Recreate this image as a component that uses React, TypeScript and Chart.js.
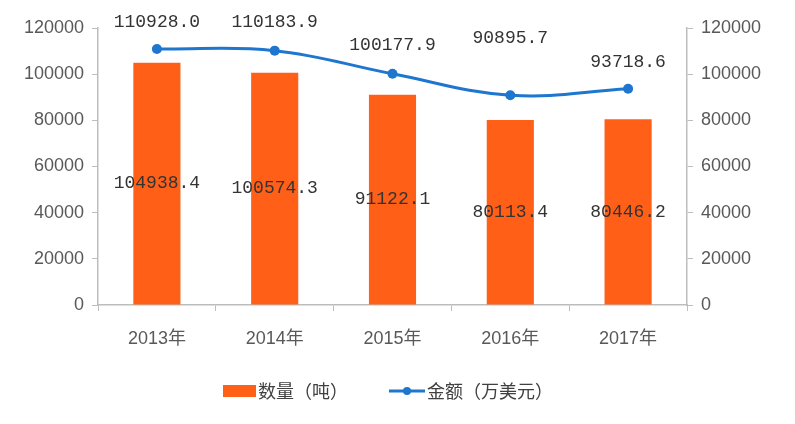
import { useEffect, useRef } from "react";
import { Chart, registerables } from "chart.js";

Chart.register(...registerables);

const years = ["2013年", "2014年", "2015年", "2016年", "2017年"];
const quantity = [104938.4, 100574.3, 91122.1, 80113.4, 80446.2];
const amount = [110928.0, 110183.9, 100177.9, 90895.7, 93718.6];
const seriesNames = ["数量（吨）", "金额（万美元）"];

// how far each amount label sits above its point (px)
const lineLabelOffsets = [27, 28, 29, 57, 26];

const ORANGE = "#ff5f16";
const BLUE = "#1f76cf";
const AXIS = "#bdbdbd";
const TICK_TEXT = "#595959";

const valueLabels = {
    id: "valueLabels",
    afterDatasetsDraw(chart: any) {
        const ctx = chart.ctx;
        ctx.save();
        ctx.font = '18px "Liberation Mono"';
        ctx.fillStyle = "#333333";
        ctx.textAlign = "center";
        ctx.textBaseline = "middle";

        chart.getDatasetMeta(0).data.forEach((el: any, i: number) => {
            const { x, y, base } = el.getProps(["x", "y", "base"], true);
            ctx.fillText(quantity[i].toFixed(1), x, (y + base) / 2);
        });

        chart.getDatasetMeta(1).data.forEach((el: any, i: number) => {
            const { x, y } = el.getProps(["x", "y"], true);
            ctx.fillText(amount[i].toFixed(1), x, y - lineLabelOffsets[i]);
        });
        ctx.restore();
    },
};

// excel-like legend: box for bars, line with dot for the line series
const bottomLegend = {
    id: "bottomLegend",
    afterDraw(chart: any) {
        const ctx = chart.ctx;
        const cy = 391;
        ctx.save();
        ctx.font = '18px "Noto Sans CJK SC"';
        ctx.textBaseline = "middle";
        ctx.textAlign = "left";

        ctx.fillStyle = ORANGE;
        ctx.fillRect(223, cy - 6, 33, 12);
        ctx.fillStyle = "#404040";
        ctx.fillText(seriesNames[0], 258, cy);

        ctx.strokeStyle = BLUE;
        ctx.lineWidth = 3;
        ctx.beginPath();
        ctx.moveTo(389, cy);
        ctx.lineTo(425, cy);
        ctx.stroke();
        ctx.fillStyle = BLUE;
        ctx.beginPath();
        ctx.arc(407, cy, 4, 0, Math.PI * 2);
        ctx.fill();
        ctx.fillStyle = "#404040";
        ctx.fillText(seriesNames[1], 427, cy);
        ctx.restore();
    },
};

const yAxis = (position: "left" | "right") => ({
    type: "linear",
    position,
    min: 0,
    max: 120000,
    ticks: {
        stepSize: 20000,
        color: TICK_TEXT,
        padding: 8,
        font: { family: "Liberation Sans", size: 18 },
        callback: (v: any) => String(v),
    },
    grid: { drawOnChartArea: false, drawTicks: true, tickLength: 6, color: AXIS },
    border: { color: AXIS, width: 1.5 },
    afterFit(scale: any) {
        scale.width = position === "left" ? 98 : 108;
    },
});

const App = () => {
    const canvasRef = useRef<HTMLCanvasElement>(null);
    const chartRef = useRef<Chart | null>(null);

    useEffect(() => {
        document.body.style.margin = "0";
        if (!canvasRef.current) return;

        const config = {
            type: "bar",
            data: {
                labels: years,
                datasets: [
                    {
                        type: "bar",
                        label: seriesNames[0],
                        data: quantity,
                        backgroundColor: ORANGE,
                        yAxisID: "y",
                        categoryPercentage: 1,
                        barPercentage: 0.4,
                        order: 2,
                    },
                    {
                        type: "line",
                        label: seriesNames[1],
                        data: amount,
                        borderColor: BLUE,
                        backgroundColor: BLUE,
                        borderWidth: 3,
                        pointRadius: 5,
                        pointBackgroundColor: BLUE,
                        pointBorderWidth: 0,
                        tension: 0.4,
                        yAxisID: "y1",
                        order: 1,
                    },
                ],
            },
            options: {
                responsive: false,
                animation: false,
                layout: { padding: { top: 28 } },
                plugins: {
                    legend: { display: false },
                    tooltip: { enabled: false },
                },
                scales: {
                    x: {
                        ticks: {
                            color: TICK_TEXT,
                            padding: 17,
                            font: { family: "'Liberation Sans', 'Noto Sans CJK SC'", size: 18 },
                        },
                        grid: { drawOnChartArea: false, drawTicks: true, tickLength: 6, color: AXIS, offset: true },
                        border: { color: AXIS, width: 1.5 },
                        afterFit(scale: any) {
                            scale.height = 119;
                        },
                    },
                    y: yAxis("left"),
                    y1: yAxis("right"),
                },
            },
            plugins: [valueLabels, bottomLegend],
        };

        chartRef.current = new Chart(canvasRef.current, config as any);

        return () => {
            if (chartRef.current) {
                chartRef.current.destroy();
                chartRef.current = null;
            }
        };
    }, []);

    return (
        <div style={{ width: 795, height: 424, background: "#fff" }}>
            <canvas ref={canvasRef} width={795} height={424} />
        </div>
    );
};

export default App;
